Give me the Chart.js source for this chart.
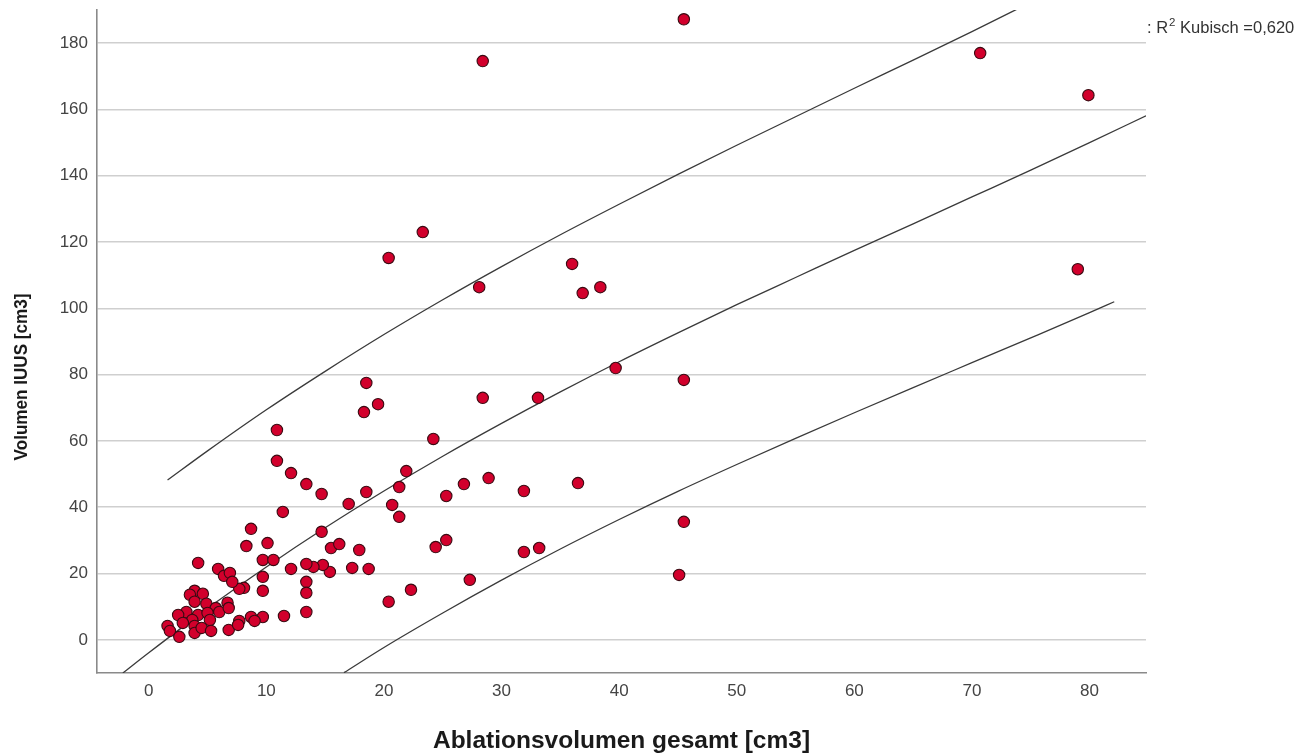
<!DOCTYPE html>
<html lang="de">
<head>
<meta charset="utf-8">
<title>Volumen IUUS vs. Ablationsvolumen</title>
<script src="https://cdn.jsdelivr.net/npm/chart.js@4.4.1/dist/chart.umd.min.js"></script>
<style>
  html, body { margin: 0; padding: 0; background: #ffffff; }
  #wrap { width: 1314px; height: 756px; position: relative; }
</style>
</head>
<body>
<div id="wrap"><canvas id="chart" width="1314" height="756"></canvas></div>
<script>
// Beobachtungen: Ablationsvolumen gesamt [cm3] (x) und Volumen IUUS [cm3] (y)
const ablationVolume = [
  45.5, 28.4, 70.7, 79.9, 23.3, 20.4, 36.0, 28.1, 36.9, 38.4,
  79.0, 39.7, 45.5, 18.5, 19.5, 18.3, 28.4, 33.1, 10.9, 24.2,
  10.9, 12.1, 21.9, 13.4, 14.7, 21.3, 28.9, 26.8, 36.5, 31.9,
  18.5, 25.3, 17.0, 20.7, 11.4, 21.3, 8.7, 14.7, 45.5, 24.4,
  25.3, 31.9, 33.2, 45.1, 27.3, 22.3, 20.4, 8.3, 10.1, 15.5,
  16.2, 17.9, 17.3, 18.7, 15.4, 14.8, 14.0, 13.4, 12.1, 13.4,
  13.4, 13.4, 11.5, 9.7, 10.6, 9.7, 9.7, 9.7, 8.1, 7.7,
  4.2, 5.9, 6.4, 6.9, 7.1, 3.9, 4.6, 3.5, 3.9, 4.9,
  5.7, 6.0, 6.7, 6.8, 3.2, 2.5, 4.2, 5.0, 5.2, 3.7,
  3.9, 2.9, 1.6, 1.8, 2.6, 3.9, 4.5, 5.3, 6.8, 7.7,
  8.7, 9.0, 7.6
];
const iuusVolume = [
  187.2, 174.6, 177.0, 164.3, 123.0, 115.2, 113.4, 106.4, 104.6, 106.4,
  111.8, 82.0, 78.4, 77.5, 71.1, 68.7, 73.0, 73.0, 63.3, 60.6,
  54.0, 50.3, 50.9, 47.0, 44.0, 46.1, 48.8, 47.0, 47.3, 44.9,
  44.6, 43.4, 41.0, 40.7, 38.6, 37.1, 33.5, 32.6, 35.6, 28.0,
  30.1, 26.5, 27.7, 19.6, 18.1, 15.1, 11.5, 28.3, 29.2, 27.7,
  28.9, 27.1, 21.7, 21.4, 20.5, 22.6, 22.0, 22.9, 21.4, 17.5,
  14.2, 8.4, 7.2, 24.1, 24.1, 19.0, 14.8, 6.9, 15.7, 15.4,
  23.2, 21.4, 19.3, 20.2, 17.5, 14.8, 13.9, 13.6, 11.5, 10.9,
  9.6, 8.4, 11.2, 9.6, 8.4, 7.5, 7.5, 8.1, 6.0, 6.0,
  4.2, 5.1, 4.2, 2.7, 0.9, 2.1, 3.6, 2.7, 3.0, 5.7,
  6.9, 5.7, 4.5
];

// Kubische Anpassung (Mitte) und Grenzen des Vorhersageintervalls
const fitX   = [-2.2, 0, 5, 10, 15, 20, 25, 30, 35, 40, 45, 50, 55, 60, 65, 70, 75, 80, 84.8];
const fitY   = [-10.0, -3.9, 9.5, 22.0, 33.8, 44.9, 55.4, 65.3, 74.8, 83.9, 92.6, 101.1, 109.3, 117.5, 125.5, 133.6, 141.7, 150.0, 158.1];
const upperX = [1.6, 5, 10, 15, 20, 25, 30, 35, 40, 45, 50, 55, 60, 65, 70, 75];
const upperY = [48.2, 57.0, 69.4, 81.0, 92.1, 102.6, 112.6, 122.2, 131.4, 140.4, 149.2, 157.8, 166.4, 174.9, 183.5, 192.3];
const lowerX = [16.6, 20, 25, 30, 35, 40, 45, 50, 55, 60, 65, 70, 75, 80, 82.1];
const lowerY = [-9.9, -2.3, 8.1, 18.0, 27.4, 36.3, 44.8, 52.9, 60.8, 68.5, 76.1, 83.6, 91.1, 98.7, 102.0];

// Achsen und Beschriftungen
const xTicks = [0, 10, 20, 30, 40, 50, 60, 70, 80];
const yTicks = [0, 20, 40, 60, 80, 100, 120, 140, 160, 180];
const xTitle = 'Ablationsvolumen gesamt [cm3]';
const yTitle = 'Volumen IUUS [cm3]';
const fitLabel = { prefix: ': R', sup: '2', suffix: ' Kubisch =0,620' };

const FONT = '"Liberation Sans", Arial, sans-serif';
const toPoints = (xs, ys) => xs.map((x, i) => ({ x: x, y: ys[i] }));

const lineStyle = {
  type: 'line',
  showLine: true,
  borderColor: '#3a3a3a',
  borderWidth: 1.3,
  pointRadius: 0,
  pointHoverRadius: 0,
  fill: false,
  tension: 0.4,
  cubicInterpolationMode: 'monotone'
};

// senkrechter Achsentitel (etwas schmal gesetzt) und R²-Beschriftung rechts oben
const annotationsPlugin = {
  id: 'annotations',
  afterDraw(chart) {
    const ctx = chart.ctx;
    const area = chart.chartArea;

    ctx.save();
    ctx.translate(22, 377);
    ctx.rotate(-Math.PI / 2);
    ctx.scale(0.9, 1);
    ctx.fillStyle = '#1a1a1a';
    ctx.font = 'bold 19px ' + FONT;
    ctx.textAlign = 'center';
    ctx.textBaseline = 'middle';
    ctx.fillText(yTitle, 0, 0);
    ctx.restore();

    ctx.save();
    ctx.fillStyle = '#333333';
    ctx.textBaseline = 'alphabetic';
    ctx.textAlign = 'left';
    let x = area.right + 1;
    const y = 33;
    ctx.font = '16.5px ' + FONT;
    ctx.fillText(fitLabel.prefix, x, y);
    x += ctx.measureText(fitLabel.prefix).width + 1;
    ctx.font = '11.5px ' + FONT;
    ctx.fillText(fitLabel.sup, x, y - 7);
    x += ctx.measureText(fitLabel.sup).width;
    ctx.font = '16.5px ' + FONT;
    ctx.fillText(fitLabel.suffix, x, y);
    ctx.restore();
  }
};

const tickFont = { family: FONT, size: 17 };

new Chart(document.getElementById('chart'), {
  type: 'scatter',
  data: {
    datasets: [
      Object.assign({ label: 'Obere Grenze', data: toPoints(upperX, upperY), order: 2 }, lineStyle),
      Object.assign({ label: 'Kubisch', data: toPoints(fitX, fitY), order: 2 }, lineStyle),
      Object.assign({ label: 'Untere Grenze', data: toPoints(lowerX, lowerY), order: 2 }, lineStyle),
      {
        label: 'Beobachtet',
        data: toPoints(ablationVolume, iuusVolume),
        pointRadius: 5.7,
        pointHoverRadius: 5.7,
        pointBackgroundColor: '#d2002c',
        pointBorderColor: '#3a0a12',
        pointBorderWidth: 1.1,
        order: 1
      }
    ]
  },
  options: {
    responsive: false,
    animation: false,
    events: [],
    layout: { padding: { left: 0, right: 168, top: 10, bottom: 0 } },
    plugins: {
      legend: { display: false },
      tooltip: { enabled: false }
    },
    scales: {
      x: {
        type: 'linear',
        min: -4.4,
        max: 84.8,
        afterFit(scale) { scale.height = 83; scale.paddingLeft = 0; scale.paddingRight = 0; },
        afterBuildTicks(scale) { scale.ticks = xTicks.map(v => ({ value: v })); },
        ticks: {
          stepSize: 10,
          includeBounds: false,
          padding: 8,
          color: '#444444',
          font: tickFont
        },
        grid: { display: false, drawTicks: false },
        border: { display: true, color: '#8a8a8a', width: 1.6 },
        title: {
          display: true,
          text: xTitle,
          color: '#1a1a1a',
          font: { family: FONT, size: 24.5, weight: 'bold', lineHeight: 1.2 },
          padding: { top: 0, bottom: 0 }
        }
      },
      y: {
        type: 'linear',
        min: -10,
        max: 190,
        afterFit(scale) { scale.width = 97; scale.paddingTop = 0; scale.paddingBottom = 0; },
        afterBuildTicks(scale) { scale.ticks = yTicks.map(v => ({ value: v })); },
        ticks: {
          stepSize: 20,
          includeBounds: false,
          padding: 9,
          color: '#444444',
          font: tickFont
        },
        grid: { display: true, drawTicks: false, color: '#cfcfcf', lineWidth: 1.6 },
        border: { display: true, color: '#8a8a8a', width: 1.6 },
        title: { display: false, text: yTitle }
      }
    }
  },
  plugins: [annotationsPlugin]
});
</script>
</body>
</html>
